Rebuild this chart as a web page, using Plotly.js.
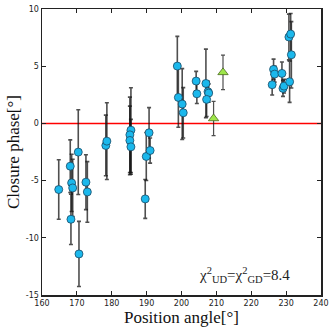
<!DOCTYPE html>
<html>
<head>
<meta charset="utf-8">
<script src="https://cdn.plot.ly/plotly-3.0.1.min.js"></script>
<style>
  html, body { margin: 0; padding: 0; background: #fff; }
  #plot { width: 330px; height: 327px; }
</style>
</head>
<body>
<div id="plot"></div>
<script>
// circles: position angle, closure phase, error
const pa = [164.8, 168.1, 168.5, 168.8, 168.3, 170.4, 170.6, 172.6, 173.0,
	178.3, 178.6, 185.5, 185.2, 185.2, 185.5, 189.9, 190.7, 191.0, 189.6,
	198.8, 199.1, 200.2, 200.5, 204.2, 204.4, 207.0, 207.6, 207.8, 207.2,
	226.0, 226.4, 226.7, 228.8, 229.1, 229.4, 230.8, 231.3, 231.5, 231.0];
const cp = [-5.78, -3.74, -5.2, -5.64, -8.38, -2.51, -11.41, -5.14, -5.99,
	-1.93, -1.55, -0.59, -1.0, -1.49, -2.05, -2.89, -0.82, -2.37, -6.6,
	5.01, 2.27, 1.69, 0.93, 3.7, 2.59, 3.49, 2.77, 2.65, 2.1,
	3.38, 4.72, 4.31, 4.37, 3.06, 3.26, 7.55, 7.81, 6.0, 3.64];
const cpErr = [2.6, 2.3, 2.5, 2.5, 2.2, 3.7, 2.85, 2.4, 2.65,
	2.65, 3.35, 3.7, 3.3, 3.0, 2.4, 2.1, 2.2, 1.1, 1.7,
	2.6, 2.6, 3.1, 2.2, 0.85, 0.85, 3.0, 0.9, 0.8, 1.5,
	0.9, 0.9, 0.7, 1.0, 0.7, 0.6, 2.0, 1.8, 2.9, 1.8];

// triangles
const paTri = [211.9, 209.2];
const cpTri = [4.46, 0.43];
const errTri = [1.5, 1.5];

const xTicks = [160, 170, 180, 190, 200, 210, 220, 230, 240];
const yTicks = [-15, -10, -5, 0, 5, 10];

const serif = 'Liberation Serif, DejaVu Serif, serif';

const circles = {
	x: pa, y: cp,
	mode: 'markers',
	type: 'scatter',
	error_y: {type: 'data', array: cpErr, visible: true,
		color: 'rgba(20,20,20,0.75)', thickness: 1.6, width: 2},
	marker: {size: 8, color: '#1bb8ec', line: {color: '#1a4a66', width: 0.8}},
	hoverinfo: 'none',
};

const triangles = {
	x: paTri, y: cpTri,
	mode: 'markers',
	type: 'scatter',
	error_y: {type: 'data', array: errTri, visible: true,
		color: 'rgba(20,20,20,0.75)', thickness: 1.2, width: 2},
	marker: {size: 9, symbol: 'triangle-up', color: '#9ee64a', line: {color: '#4a6a20', width: 0.8}},
	hoverinfo: 'none',
};

const zeroLine = {
	x: [160, 240], y: [0, 0],
	mode: 'lines',
	type: 'scatter',
	line: {color: '#ff0000', width: 1.5},
	hoverinfo: 'none',
};

const axisBase = {
	showgrid: false,
	zeroline: false,
	showline: true,
	linecolor: '#222',
	linewidth: 1.5,
	mirror: 'ticks',
	ticks: 'inside',
	ticklen: 4,
	tickcolor: '#222',
	tickfont: {family: 'DejaVu Sans, sans-serif', size: 8, color: '#222'},
};

const layout = {
	width: 330,
	height: 327,
	paper_bgcolor: '#fff',
	plot_bgcolor: '#fff',
	showlegend: false,
	margin: {l: 42, r: 9, t: 9, b: 32},
	xaxis: Object.assign({}, axisBase, {
		range: [160, 240],
		tickvals: xTicks,
		ticktext: xTicks.map(String),
		title: {text: 'Position angle[°]', font: {family: serif, size: 17, color: '#111'}, standoff: 2},
		automargin: false,
	}),
	yaxis: Object.assign({}, axisBase, {
		range: [-15, 10],
		tickvals: yTicks,
		ticktext: yTicks.map(String),
		title: {text: 'Closure phase[°]', font: {family: serif, size: 17, color: '#111'}, standoff: 2},
		automargin: false,
	}),
	annotations: [{
		x: 218, y: -13.25, xref: 'x', yref: 'y',
		text: 'χ<sup>2</sup><sub>UD</sub>=χ<sup>2</sup><sub>GD</sub>=8.4',
		showarrow: false,
		font: {family: serif, size: 15, color: '#222'},
	}],
};

Plotly.newPlot('plot', [zeroLine, circles, triangles], layout, {staticPlot: true});
</script>
</body>
</html>
